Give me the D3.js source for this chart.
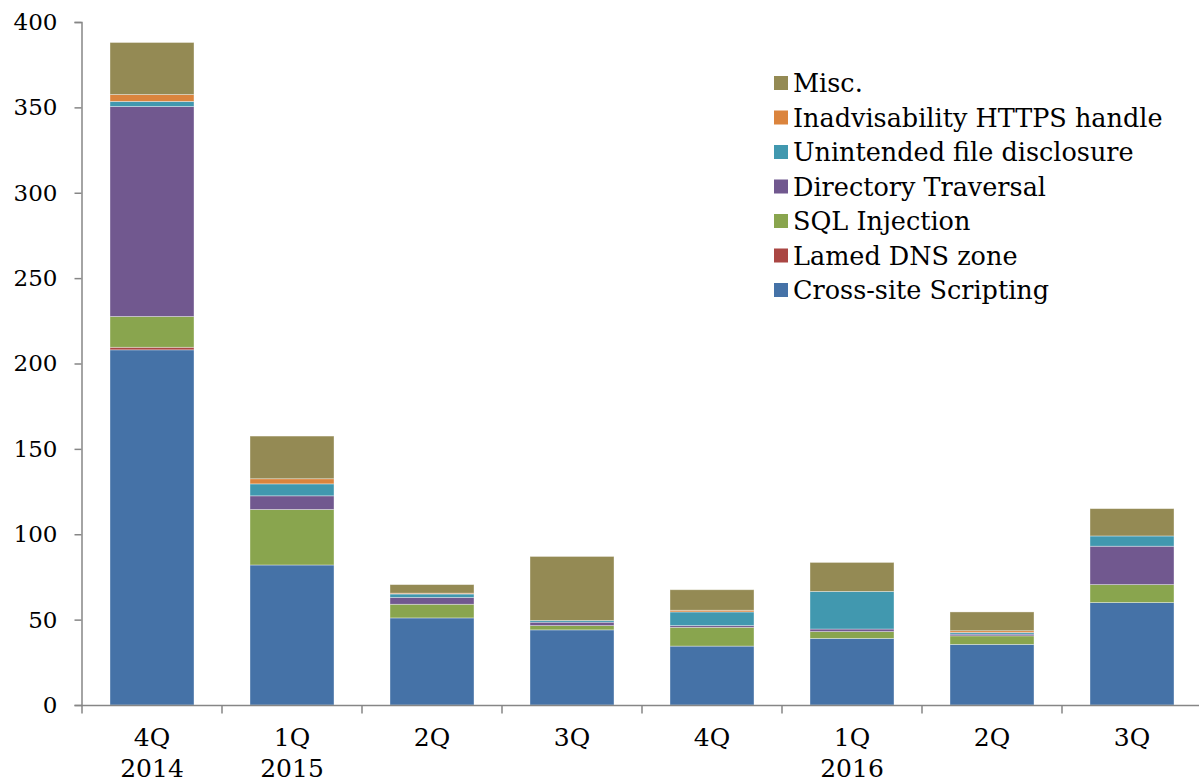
<!DOCTYPE html>
<html>
<head>
<meta charset="utf-8">
<script src="https://cdn.jsdelivr.net/npm/d3@7"></script>
<style>
  body { margin: 0; background: #fff; }
  text { font-family: "DejaVu Serif", serif; fill: #000; }
</style>
</head>
<body>
<script>
// DATA
var quarters = ['4Q', '1Q', '2Q', '3Q', '4Q', '1Q', '2Q', '3Q'];
var years    = ['2014', '2015', '', '', '', '2016', '', ''];

var crossSite   = [208, 82, 51, 44, 34.5, 39, 35.5, 60];
var lamedDns    = [1.5, 0, 0, 0, 0, 0, 0, 0];
var sqlInj      = [18, 32.5, 8, 2.5, 11, 4, 5, 10.5];
var dirTrav     = [123, 8, 4, 2, 1, 1.5, 1, 22.5];
var unintended  = [3, 7, 2, 1, 8, 22, 1, 6];
var httpsHandle = [4, 3, 0.5, 0, 1, 0, 1, 0];
var misc        = [30.5, 25, 5, 37.5, 12, 17, 11, 16];

var seriesNames = ['Cross-site Scripting', 'Lamed DNS zone', 'SQL Injection',
  'Directory Traversal', 'Unintended file disclosure', 'Inadvisability HTTPS handle', 'Misc.'];
var seriesValues = [crossSite, lamedDns, sqlInj, dirTrav, unintended, httpsHandle, misc];
var colors = ['#4572A7', '#AA4643', '#89A54E', '#71588F', '#4198AF', '#DB843D', '#948A54'];
var yTicks = [0, 50, 100, 150, 200, 250, 300, 350, 400];

{ // INIT
  var width  = 1199,
      height = 783;

  var svg = d3.select('body').append('svg')
      .attr('width', width)
      .attr('height', height);

  var x = d3.scaleBand()
      .domain(d3.range(quarters.length))
      .range([82, 1202])
      .paddingInner(0.4)
      .paddingOuter(0.2);

  var y = d3.scaleLinear()
      .domain([0, 400])
      .range([705, 22]);

  var rows = quarters.map(function(q, i) {
    var r = {i: i};
    seriesNames.forEach(function(s, k) { r[s] = seriesValues[k][i]; });
    return r;
  });

  var stack = d3.stack().keys(seriesNames)(rows);

  svg.append('g').selectAll('g')
    .data(stack)
    .enter().append('g')
      .attr('fill', function(d, k) { return colors[k]; })
    .selectAll('rect')
    .data(function(d) { return d; })
    .enter().append('rect')
      .attr('x', function(d) { return x(d.data.i); })
      .attr('width', x.bandwidth())
      .attr('y', function(d) { return y(d[1]); })
      .attr('height', function(d) { return Math.max(0, y(d[0]) - y(d[1])); })
      .attr('stroke', 'rgba(255,255,255,0.45)')
      .attr('stroke-width', 0.8);

  // y axis
  var yAxis = svg.append('g')
      .attr('transform', 'translate(81.5,0)')
      .call(d3.axisLeft(y).tickValues(yTicks).tickSize(7).tickPadding(17));
  yAxis.select('.domain').attr('stroke', '#868686').attr('stroke-width', 1.5);
  yAxis.selectAll('.tick line').attr('stroke', '#868686').attr('stroke-width', 1.5);
  yAxis.selectAll('text').attr('font-size', 23).attr('font-family', '"DejaVu Serif", serif').attr('fill', '#000');

  // x axis
  var xa = svg.append('g').attr('transform', 'translate(0,705.5)');
  xa.append('line')
      .attr('x1', 81).attr('x2', width)
      .attr('stroke', '#868686').attr('stroke-width', 1.5);
  var step = x.step();
  xa.selectAll('.xtick')
    .data(d3.range(quarters.length + 1))
    .enter().append('line')
      .attr('x1', function(i) { return 82 + i * step; })
      .attr('x2', function(i) { return 82 + i * step; })
      .attr('y1', 0).attr('y2', 8)
      .attr('stroke', '#868686').attr('stroke-width', 1.5);

  xa.selectAll('.q')
    .data(quarters)
    .enter().append('text')
      .attr('x', function(d, i) { return x(i) + x.bandwidth() / 2; })
      .attr('y', 40)
      .attr('text-anchor', 'middle')
      .attr('font-size', 25)
      .text(function(d) { return d; });

  xa.selectAll('.yr')
    .data(years)
    .enter().append('text')
      .attr('x', function(d, i) { return x(i) + x.bandwidth() / 2; })
      .attr('y', 71)
      .attr('text-anchor', 'middle')
      .attr('font-size', 25)
      .text(function(d) { return d; });

  // legend, top to bottom reversed order
  var legend = svg.append('g').attr('transform', 'translate(774,83)');
  var items = seriesNames.map(function(s, k) { return {name: s, color: colors[k]}; }).reverse();
  var li = legend.selectAll('g')
    .data(items)
    .enter().append('g')
      .attr('transform', function(d, i) { return 'translate(0,' + (i * 34.5) + ')'; });
  li.append('rect')
      .attr('x', 0).attr('y', -7)
      .attr('width', 14).attr('height', 14)
      .attr('fill', function(d) { return d.color; });
  li.append('text')
      .attr('x', 19).attr('y', 9)
      .attr('font-size', 25.5)
      .text(function(d) { return d.name; });
}
</script>
</body>
</html>
